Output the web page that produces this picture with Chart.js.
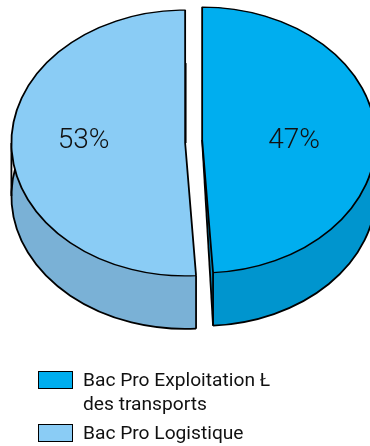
<!DOCTYPE html>
<html lang="en">
<head>
<meta charset="UTF-8">
<title>Bac Pro</title>
<script src="https://cdn.jsdelivr.net/npm/chart.js@4/dist/chart.umd.min.js"></script>
<style>
  body { margin: 0; background: #fff; }
  #wrap { position: relative; width: 370px; height: 446px; overflow: hidden; }
  canvas { position: absolute; left: 0; top: 0; }
  .legend-item { position: absolute; left: 38px; font: 19.2px/24px Roboto, sans-serif; color: #111; white-space: pre-line; padding-left: 45px; }
  .legend-item i { position: absolute; left: 0; top: 3px; width: 33px; height: 16px; border: 1px solid #000; }
</style>
</head>
<body>
<div id="wrap">
  <canvas id="pie" width="370" height="446"></canvas>
</div>
<script>
// values
const categories = ['Bac Pro Exploitation Ł\ndes transports', 'Bac Pro Logistique'];
const percentLabels = ['47%', '53%'];
// sweep of each slice as measured on the picture (the drawn angles are not quite the printed 47/53)
const sliceValues = [49, 51];

// colours
const topColors = ['#00AEEF', '#8ACCF5'];
const wallColors = ['#0095CE', '#7AB1D6'];

// 3d look
const squash = 0.765;
const depth = 53;
const centerY = 141.5;
const explodeX = [8.5, -8.5];
const explodeY = [-1.5, 1.5];
const labelDist = [0.53, 0.585];
const labelY = 140.5;
const deepEdgeWidth = [1.8, 2.8];
const legendTops = [368, 421];

const pie3d = {
  id: 'pie3d',
  beforeDatasetDraw(chart) {
    const ctx = chart.ctx;
    const arcs = chart.getDatasetMeta(0).data;

    arcs.forEach((arc, i) => {
      const cx = arc.x + explodeX[i];
      const cy = centerY + explodeY[i];
      const r = arc.outerRadius;
      const ry = r * squash;
      const a0 = arc.startAngle;
      const a1 = arc.endAngle;
      const rim = a => [cx + r * Math.cos(a), cy + ry * Math.sin(a)];

      // side wall: fan from the apex to the lower rim, then the band between both rims
      ctx.fillStyle = wallColors[i];
      ctx.beginPath();
      ctx.moveTo(cx, cy);
      ctx.ellipse(cx, cy + depth, r, ry, 0, a0, a1);
      ctx.closePath();
      ctx.fill();
      ctx.beginPath();
      ctx.ellipse(cx, cy + depth, r, ry, 0, a0, a1);
      ctx.ellipse(cx, cy, r, ry, 0, a1, a0, true);
      ctx.closePath();
      ctx.fill();

      // wall outlines
      ctx.strokeStyle = '#000';
      ctx.lineWidth = 1.8;
      ctx.beginPath();
      ctx.ellipse(cx, cy + depth, r, ry, 0, a0, a1);
      ctx.stroke();

      const verticals = [a0, a1, Math.PI].filter(a => {
        const turn = ((a % (2 * Math.PI)) + 2 * Math.PI) % (2 * Math.PI);
        return turn <= Math.PI + 0.001 && (a === Math.PI ? a0 < Math.PI && a1 > Math.PI : true);
      });
      verticals.forEach(a => {
        const [x, y] = rim(a);
        ctx.beginPath();
        ctx.moveTo(x, y);
        ctx.lineTo(x, y + depth);
        ctx.stroke();
      });

      const [ex, ey] = rim(a1);
      ctx.lineWidth = deepEdgeWidth[i];
      ctx.beginPath();
      ctx.moveTo(cx, cy);
      ctx.lineTo(ex, ey + depth);
      ctx.stroke();
    });

    // top faces, drawn by the arc elements
    arcs.forEach((arc, i) => {
      ctx.save();
      ctx.translate(arc.x + explodeX[i], centerY + explodeY[i]);
      ctx.scale(1, squash);
      ctx.translate(-arc.x, -arc.y);
      arc.draw(ctx);
      ctx.restore();
    });

    // percent labels
    ctx.fillStyle = '#111';
    ctx.font = '300 28px Roboto, sans-serif';
    ctx.textAlign = 'center';
    ctx.textBaseline = 'middle';
    arcs.forEach((arc, i) => {
      const mid = (arc.startAngle + arc.endAngle) / 2;
      const x = arc.x + explodeX[i] + Math.cos(mid) * arc.outerRadius * labelDist[i];
      ctx.fillText(percentLabels[i], x, labelY);
    });

    return false;
  }
};

new Chart(document.getElementById('pie'), {
  type: 'pie',
  data: {
    labels: categories,
    datasets: [{
      data: sliceValues,
      backgroundColor: topColors,
      borderColor: '#000',
      borderWidth: 1.8
    }]
  },
  options: {
    responsive: false,
    animation: false,
    layout: { padding: { left: 19, right: 1.7, top: 0, bottom: 0 } },
    plugins: { legend: { display: false }, tooltip: { enabled: false } }
  },
  plugins: [pie3d]
});

// legend under the pie
categories.forEach((name, i) => {
  const item = document.createElement('div');
  item.className = 'legend-item';
  item.style.top = legendTops[i] + 'px';
  const box = document.createElement('i');
  box.style.background = topColors[i];
  item.appendChild(box);
  item.appendChild(document.createTextNode(name));
  document.getElementById('wrap').appendChild(item);
});
</script>
</body>
</html>
